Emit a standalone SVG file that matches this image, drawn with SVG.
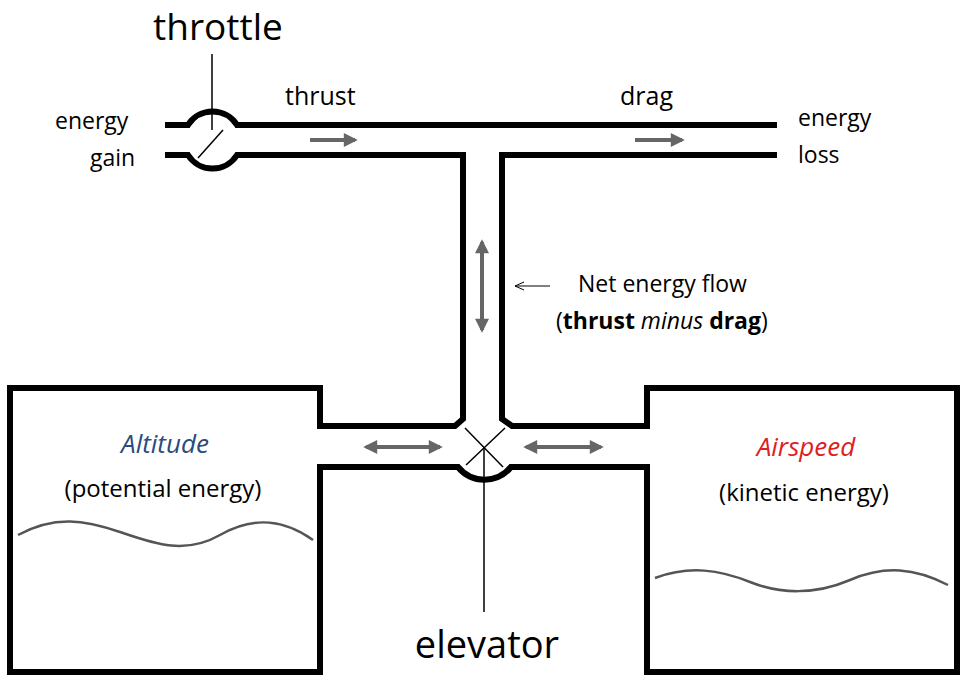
<svg xmlns="http://www.w3.org/2000/svg" width="967" height="679" viewBox="0 0 967 679">
<style>
.w{fill:none;stroke:#000;stroke-width:6;stroke-linejoin:miter}
.t{fill:none;stroke:#000;stroke-width:1.5}
.g{fill:none;stroke:#666;stroke-width:4}
.wave{fill:none;stroke:#555;stroke-width:2.5}
text{font-family:"Open Sans","Noto Sans",sans-serif;fill:#000}
</style>
<defs>
<marker id="ah" viewBox="0 0 10 10" refX="8" refY="5" markerWidth="4" markerHeight="3.5" orient="auto-start-reverse"><path d="M0,0L10,5L0,10z" fill="#666"/></marker>
<marker id="th" viewBox="0 0 10 10" refX="9" refY="5" markerWidth="10" markerHeight="10" markerUnits="userSpaceOnUse" orient="auto"><path d="M0,1L9,5L0,9" fill="none" stroke="#000" stroke-width="1"/></marker>
</defs>
<rect width="967" height="679" fill="#fff"/>
<g id="pipes">
<path class="w" d="M165,125H188A29,29 0 0 1 237,125H777"/>
<path class="w" d="M165,155H188A29,29 0 0 0 237,155H463V419L455,426H320V388H10V672H320V467H458A34,34 0 0 0 511,467H647V672H957V388H647V426H512L502,419V155H777"/>
</g>
<g id="throttle">
<line class="t" x1="212" y1="54" x2="212" y2="130"/>
<line class="t" x1="198" y1="158" x2="223" y2="130" stroke-width="2"/>
<text x="218" y="40" font-size="37" text-anchor="middle">throttle</text>
</g>
<g id="elevator">
<line class="t" x1="465" y1="428" x2="503" y2="467" stroke-width="2"/>
<line class="t" x1="505" y1="428" x2="466" y2="465" stroke-width="2"/>
<line class="t" x1="484" y1="447" x2="484" y2="612"/>
<text x="487" y="658" font-size="38" text-anchor="middle">elevator</text>
</g>
<g id="connectors">
<line class="g" x1="310" y1="140" x2="355" y2="140" marker-end="url(#ah)"/>
<line class="g" x1="635" y1="140" x2="682" y2="140" marker-end="url(#ah)"/>
<line class="g" x1="482" y1="242" x2="482" y2="330" marker-start="url(#ah)" marker-end="url(#ah)"/>
<line class="g" x1="366" y1="447" x2="440" y2="447" marker-start="url(#ah)" marker-end="url(#ah)"/>
<line class="g" x1="526" y1="447" x2="601" y2="447" marker-start="url(#ah)" marker-end="url(#ah)"/>
<line x1="550" y1="286" x2="515" y2="286" stroke="#000" stroke-width="1" marker-end="url(#th)"/>
</g>
<g id="labels">
<text x="55" y="129" font-size="23">energy</text>
<text x="90" y="166" font-size="23">gain</text>
<text x="285" y="105" font-size="25">thrust</text>
<text x="620" y="105" font-size="25">drag</text>
<text x="798" y="126" font-size="23">energy</text>
<text x="798" y="163" font-size="23">loss</text>
<text x="578" y="292" font-size="23">Net energy flow</text>
<text x="556" y="329" font-size="23">(<tspan font-weight="bold">thrust</tspan> <tspan font-style="italic">minus</tspan> <tspan font-weight="bold">drag</tspan>)</text>
</g>
<g id="altitude">
<text x="165" y="453" font-size="26" text-anchor="middle" font-style="italic" style="fill:#2a4b7c">Altitude</text>
<text x="163" y="497" font-size="24" text-anchor="middle">(potential energy)</text>
<path class="wave" d="M18,535C55,515 85,520 120,532S185,555 220,535S285,520 313,540"/>
</g>
<g id="airspeed">
<text x="806" y="456" font-size="26" text-anchor="middle" font-style="italic" style="fill:#e02020">Airspeed</text>
<text x="804" y="501" font-size="24" text-anchor="middle">(kinetic energy)</text>
<path class="wave" d="M655,578C690,565 720,570 750,582S815,595 850,580S915,568 948,585"/>
</g>
</svg>
